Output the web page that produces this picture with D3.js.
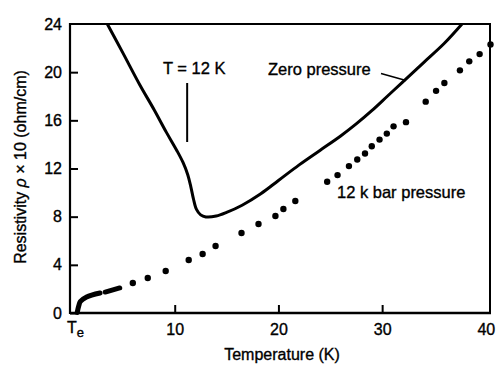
<!DOCTYPE html>
<html>
<head>
<meta charset="utf-8">
<script src="https://cdn.jsdelivr.net/npm/d3@7"></script>
<style>
  html, body { margin: 0; padding: 0; background: #fff; }
  svg { display: block; font-family: "Liberation Sans", Arial, Helvetica, sans-serif; }
  svg text { stroke: #000; stroke-width: 0.35px; }
</style>
</head>
<body>
<svg id="chart" width="504" height="366"></svg>
<script>
// Resistivity vs temperature, at zero pressure and under 12 kbar
const zeroT   = [3.5, 5, 6.6, 8, 9.2, 10.2, 10.8, 11.25, 11.55, 11.8, 12.1, 12.5, 13.0, 14.0, 15.0, 16.5, 18.3, 20, 22, 24, 26, 27.5, 29, 30.5, 32, 34, 36, 37.7];
const zeroRho = [24, 21.6, 19, 16.9, 15, 13.5, 12.5, 11.5, 10.5, 9.5, 8.6, 8.15, 7.98, 8.05, 8.35, 8.95, 9.9, 11.0, 12.3, 13.5, 14.7, 15.7, 16.8, 18.0, 19.2, 20.8, 22.4, 24];

// 12 kbar: continuous low-temperature segments, then measured points
const lowSeg1T   = [0.6, 0.75, 0.9, 1.5, 2.8];
const lowSeg1Rho = [0.05, 0.6, 0.95, 1.33, 1.66];
const lowSeg2T   = [3.3, 4.7];
const lowSeg2Rho = [1.74, 2.08];
const kbarT   = [5.96, 7.4, 9.13, 11.35, 12.69, 13.94, 16.44, 18.08, 19.71, 20.48, 21.63, 24.7, 25.7, 26.8, 27.6, 28.35, 29.0, 29.75, 30.45, 31.1, 32.3, 34.2, 35.2, 36.0, 37.5, 38.4, 39.4, 40.45];
const kbarRho = [2.49, 2.91, 3.49, 4.4, 4.9, 5.56, 6.64, 7.39, 8.06, 8.64, 9.3, 10.9, 11.45, 12.2, 12.75, 13.25, 13.85, 14.4, 14.9, 15.5, 15.85, 17.55, 18.45, 19.1, 20.15, 20.9, 21.5, 22.3];

const xTicks = [10, 20, 30, 40];
const yTicks = [0, 4, 8, 12, 16, 20, 24];

const svg = d3.select("#chart");
const plotLeft = 71, plotRight = 490, plotTop = 24, plotBottom = 313;

const x = d3.scaleLinear().domain([0, 40.4]).range([plotLeft, plotRight]);
const y = d3.scaleLinear().domain([0, 24]).range([plotBottom, plotTop]);

const font = "Liberation Sans, Arial, Helvetica, sans-serif";

// frame: top and right borders
svg.append("line").attr("x1", plotLeft - 1).attr("x2", plotRight + 1).attr("y1", plotTop).attr("y2", plotTop)
  .attr("stroke", "#000").attr("stroke-width", 2);
svg.append("line").attr("x1", plotRight).attr("x2", plotRight).attr("y1", plotTop).attr("y2", plotBottom)
  .attr("stroke", "#000").attr("stroke-width", 2);

// x axis with inward ticks
const xAxis = svg.append("g").attr("transform", `translate(0,${plotBottom})`)
  .call(d3.axisBottom(x).tickValues(xTicks).tickSizeInner(-8).tickSizeOuter(0).tickPadding(10).tickFormat(d3.format("d")));
xAxis.select(".domain").attr("stroke-width", 2.6).attr("d", `M${plotLeft - 1},0H${plotRight + 1}`);
xAxis.selectAll(".tick line").attr("stroke-width", 2);
xAxis.selectAll(".tick").filter(d => d === 40).select("line").remove();
xAxis.selectAll(".tick text").attr("font-size", 16).attr("font-family", font).attr("fill", "#000").attr("dy", "0.75em");

// y axis with inward ticks
const yAxis = svg.append("g").attr("transform", `translate(${plotLeft - 1},0)`)
  .call(d3.axisLeft(y).tickValues(yTicks).tickSizeInner(-8).tickSizeOuter(0).tickPadding(8).tickFormat(d3.format("d")));
yAxis.select(".domain").attr("stroke-width", 2.2).attr("d", `M0,${plotTop - 1}V${plotBottom + 1}`);
yAxis.selectAll(".tick line").attr("stroke-width", 2);
yAxis.selectAll(".tick").filter(d => d === 24).select("line").remove();
yAxis.selectAll(".tick text").attr("font-size", 16).attr("font-family", font).attr("fill", "#000");

// Te label at the origin
const te = svg.append("text").attr("x", x(0) - 4).attr("y", 333)
  .attr("font-size", 16).attr("font-family", font).attr("fill", "#000");
te.append("tspan").text("T");
te.append("tspan").attr("font-size", 13).attr("dy", 4).text("e");

// axis titles
svg.append("text").attr("x", 282).attr("y", 360).attr("text-anchor", "middle")
  .attr("font-size", 16).attr("font-family", font).attr("fill", "#000").text("Temperature (K)");

const yTitle = svg.append("text").attr("transform", "translate(26,167) rotate(-90)")
  .attr("text-anchor", "middle").attr("font-size", 16).attr("font-family", font).attr("fill", "#000");
yTitle.append("tspan").text("Resistivity ");
yTitle.append("tspan").attr("font-style", "italic").text("ρ");
yTitle.append("tspan").text(" × 10 (ohm/cm)");

// curves
const line = d3.line().x(d => x(d[0])).y(d => y(d[1])).curve(d3.curveCatmullRom.alpha(0.5));

svg.append("path").datum(d3.zip(zeroT, zeroRho)).attr("d", line)
  .attr("fill", "none").attr("stroke", "#000").attr("stroke-width", 3).attr("stroke-linejoin", "round");

[[lowSeg1T, lowSeg1Rho], [lowSeg2T, lowSeg2Rho]].forEach(([t, r]) => {
  svg.append("path").datum(d3.zip(t, r)).attr("d", line)
    .attr("fill", "none").attr("stroke", "#000").attr("stroke-width", 5).attr("stroke-linecap", "round");
});

svg.append("g").selectAll("circle").data(d3.zip(kbarT, kbarRho)).join("circle")
  .attr("cx", d => x(d[0])).attr("cy", d => y(d[1])).attr("r", 3.2).attr("fill", "#000");

// annotations
svg.append("text").attr("x", 163).attr("y", 74).attr("font-size", 16.5).attr("font-family", font)
  .attr("fill", "#000").text("T = 12 K");
svg.append("line").attr("x1", x(11.2)).attr("x2", x(11.2)).attr("y1", y(19.1)).attr("y2", y(14.2))
  .attr("stroke", "#000").attr("stroke-width", 2);

svg.append("text").attr("x", 268).attr("y", 75).attr("font-size", 16.5).attr("font-family", font)
  .attr("fill", "#000").text("Zero pressure");
svg.append("line").attr("x1", 381).attr("y1", 73.5).attr("x2", x(32.3)).attr("y2", y(19.3))
  .attr("stroke", "#000").attr("stroke-width", 1.5);

svg.append("text").attr("x", 337).attr("y", 198).attr("font-size", 16.5).attr("font-family", font)
  .attr("fill", "#000").text("12 k bar pressure");
</script>
</body>
</html>
